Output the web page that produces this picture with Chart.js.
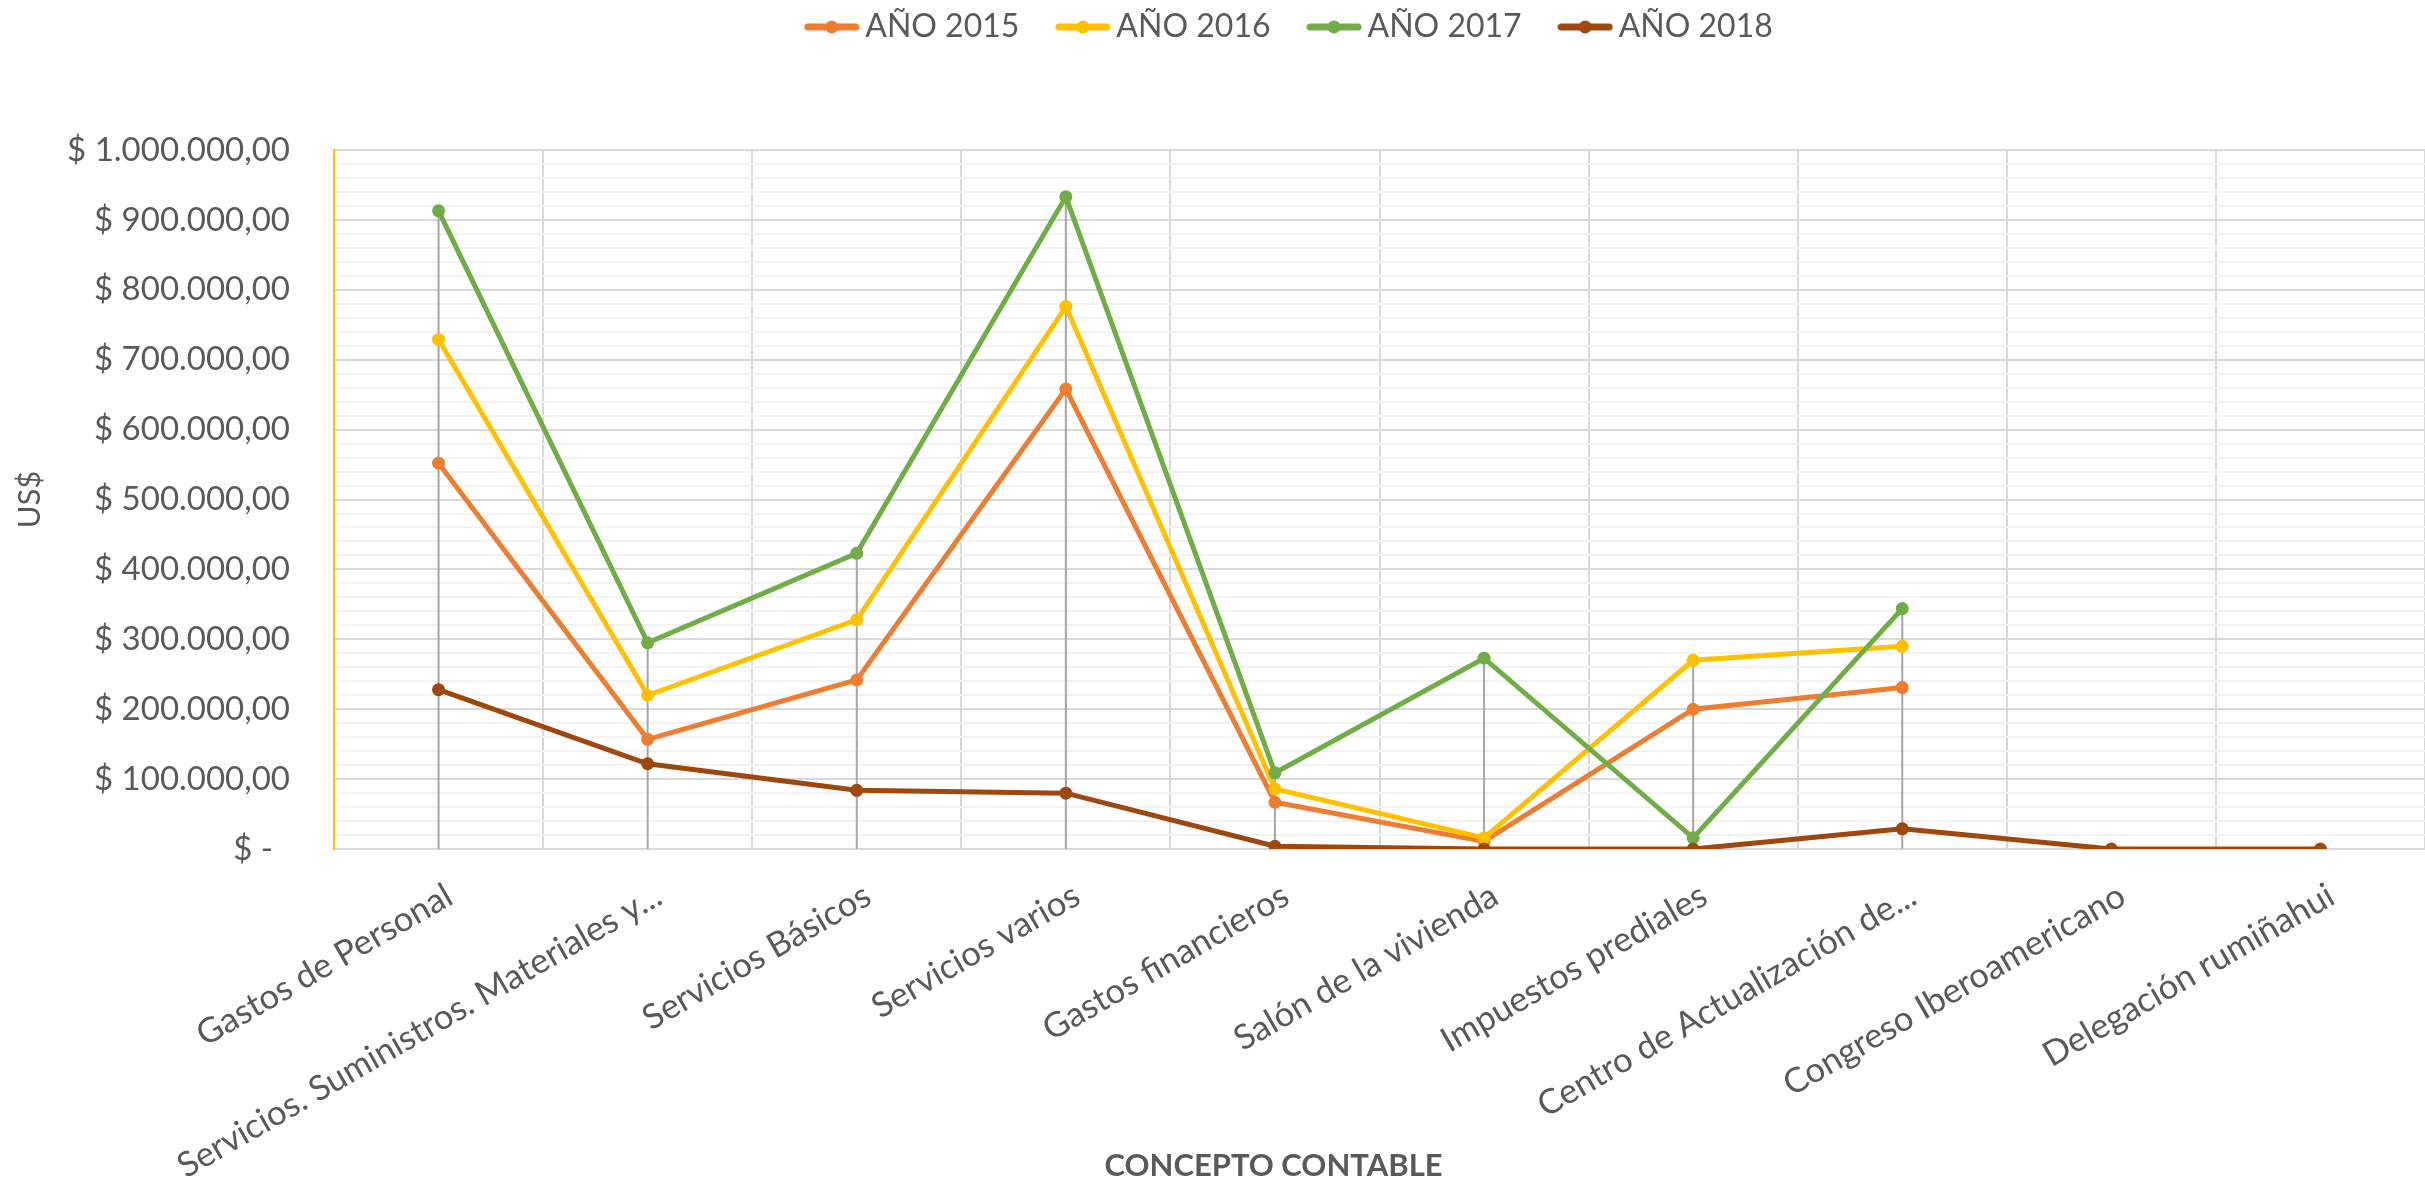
<!DOCTYPE html>
<html>
<head>
<meta charset="utf-8">
<script src="https://cdn.jsdelivr.net/npm/chart.js@4.4.0/dist/chart.umd.min.js"></script>
<style>
  html, body { margin: 0; padding: 0; background: #fff; }
  #wrap { width: 2425px; height: 1183px; }
</style>
</head>
<body>
<div id="wrap"><canvas id="chart"></canvas></div>
<script>
const categories = ['Gastos de Personal', 'Servicios. Suministros. Materiales y...', 'Servicios Básicos', 'Servicios varios',
    'Gastos financieros', 'Salón de la vivienda', 'Impuestos prediales', 'Centro de Actualización de...',
    'Congreso Iberoamericano', 'Delegación rumiñahui'];
const seriesNames = ['AÑO 2015', 'AÑO 2016', 'AÑO 2017', 'AÑO 2018'];
const year2015 = [552000, 157000, 242000, 658000, 67000, 11000, 200000, 231000, null, null];
const year2016 = [729000, 220000, 328000, 776000, 86000, 16000, 270000, 290000, null, null];
const year2017 = [913000, 295000, 423000, 933000, 109000, 273000, 16000, 344000, null, null];
const year2018 = [228000, 122000, 84000, 80000, 4000, 0, 0, 29000, 0, 0];
const yMax = 1000000;
const yMajor = 100000;
const yMinor = 20000;

const colors = ['#ED7D31', '#FFC000', '#70AD47', '#9E480E'];
const txt = '#595959';

const money = v => {
    if (v === 0) return '$ -\u00a0\u00a0';
    const parts = v.toFixed(2).split('.');
    return '$ ' + parts[0].replace(/\B(?=(\d{3})+(?!\d))/g, '.') + ',' + parts[1];
};

// legend marker: short line with a dot, like excel
const legendMark = color => {
    const c = document.createElement('canvas');
    c.width = 56;
    c.height = 14;
    const g = c.getContext('2d');
    g.strokeStyle = color;
    g.lineWidth = 7;
    g.lineCap = 'round';
    g.beginPath();
    g.moveTo(4, 7);
    g.lineTo(52, 7);
    g.stroke();
    g.fillStyle = color;
    g.beginPath();
    g.arc(28, 7, 6.5, 0, Math.PI * 2);
    g.fill();
    return c;
};

const mkSet = (i, data) => ({
    label: seriesNames[i],
    data: data,
    borderColor: colors[i],
    backgroundColor: colors[i],
    borderWidth: 5,
    pointRadius: 6.5,
    pointBorderWidth: 0,
    pointBackgroundColor: colors[i],
    spanGaps: false,
    order: 3 - i
});

// excel style drop lines, from the highest point of each category to the axis
const dropLines = {
    id: 'dropLines',
    beforeDatasetsDraw(chart) {
        const {ctx, scales: {x, y}} = chart;
        ctx.save();
        ctx.strokeStyle = '#a6a6a6';
        ctx.lineWidth = 2;
        categories.forEach((c, i) => {
            const vals = chart.data.datasets.map(d => d.data[i]).filter(v => v !== null);
            if (!vals.length) return;
            const top = Math.max(...vals);
            const px = x.getPixelForValue(i);
            ctx.beginPath();
            ctx.moveTo(px, y.getPixelForValue(top));
            ctx.lineTo(px, y.getPixelForValue(0));
            ctx.stroke();
        });
        ctx.restore();
    }
};

// more room under the legend, and the legend row sits right of centre
const legendGap = {
    id: 'legendGap',
    beforeInit(chart) {
        const fit = chart.legend.fit;
        chart.legend.fit = function () {
            fit.bind(this)();
            this.height += 97;
        };
    },
    afterLayout(chart) {
        chart.legend.left += 78;
        chart.legend.right += 78;
    }
};

// x axis title sits a bit left of the plot centre in the original
const xTitle = {
    id: 'xTitle',
    afterDraw(chart) {
        const {ctx, scales: {x}} = chart;
        ctx.save();
        ctx.font = 'bold 31px Lato';
        ctx.fillStyle = txt;
        ctx.textAlign = 'center';
        ctx.textBaseline = 'middle';
        ctx.fillText('CONCEPTO CONTABLE', (x.left + x.right) / 2 - 106, chart.height - 17);
        ctx.restore();
    }
};

new Chart(document.getElementById('chart'), {
    type: 'line',
    data: {
        labels: categories,
        datasets: [mkSet(0, year2015), mkSet(1, year2016), mkSet(2, year2017), mkSet(3, year2018)]
    },
    plugins: [dropLines, legendGap, xTitle],
    options: {
        responsive: true,
        maintainAspectRatio: false,
        animation: false,
        layout: { autoPadding: false, padding: { left: 0, right: -6, top: -35, bottom: -30 } },
        plugins: {
            tooltip: { enabled: false },
            legend: {
                position: 'top',
                labels: {
                    usePointStyle: true,
                    pointStyleWidth: 35,
                    padding: 46,
                    color: txt,
                    font: { family: 'Lato', size: 32 },
                    sort: (a, b) => a.datasetIndex - b.datasetIndex,
                    generateLabels: chart => {
                        const items = Chart.defaults.plugins.legend.labels.generateLabels(chart);
                        items.forEach(it => { it.pointStyle = legendMark(colors[it.datasetIndex]); });
                        return items;
                    }
                }
            }
        },
        scales: {
            x: {
                offset: true,
                // rotated labels may hang past the plot on the left, and the plot runs to the right edge
                afterFit: s => { s.paddingLeft = 0; s.paddingRight = -6; },
                grid: { offset: true, color: '#d9d9d9', lineWidth: 2, drawTicks: false },
                border: { color: '#d9d9d9', width: 2 },
                ticks: {
                    color: txt,
                    padding: 26,
                    labelOffset: 11,
                    maxRotation: 30,
                    minRotation: 30,
                    autoSkip: false,
                    font: { family: 'Lato', size: 34.5 }
                }
            },
            y: {
                min: 0,
                max: yMax,
                afterFit: s => { s.width = 334; },
                grid: {
                    drawTicks: false,
                    lineWidth: 2,
                    color: c => (c.tick && c.tick.value % yMajor === 0) ? '#d9d9d9' : '#f2f2f2'
                },
                border: { color: '#FFC000', width: 2 },
                ticks: {
                    stepSize: yMinor,
                    autoSkip: false,
                    padding: 44,
                    color: txt,
                    font: { family: 'Lato', size: 33 },
                    callback: v => v % yMajor === 0 ? money(v) : ''
                },
                title: {
                    display: true,
                    text: 'US$',
                    color: txt,
                    padding: { top: 11, bottom: 20 },
                    font: { family: 'Lato', size: 31 }
                }
            }
        }
    }
});
</script>
</body>
</html>
